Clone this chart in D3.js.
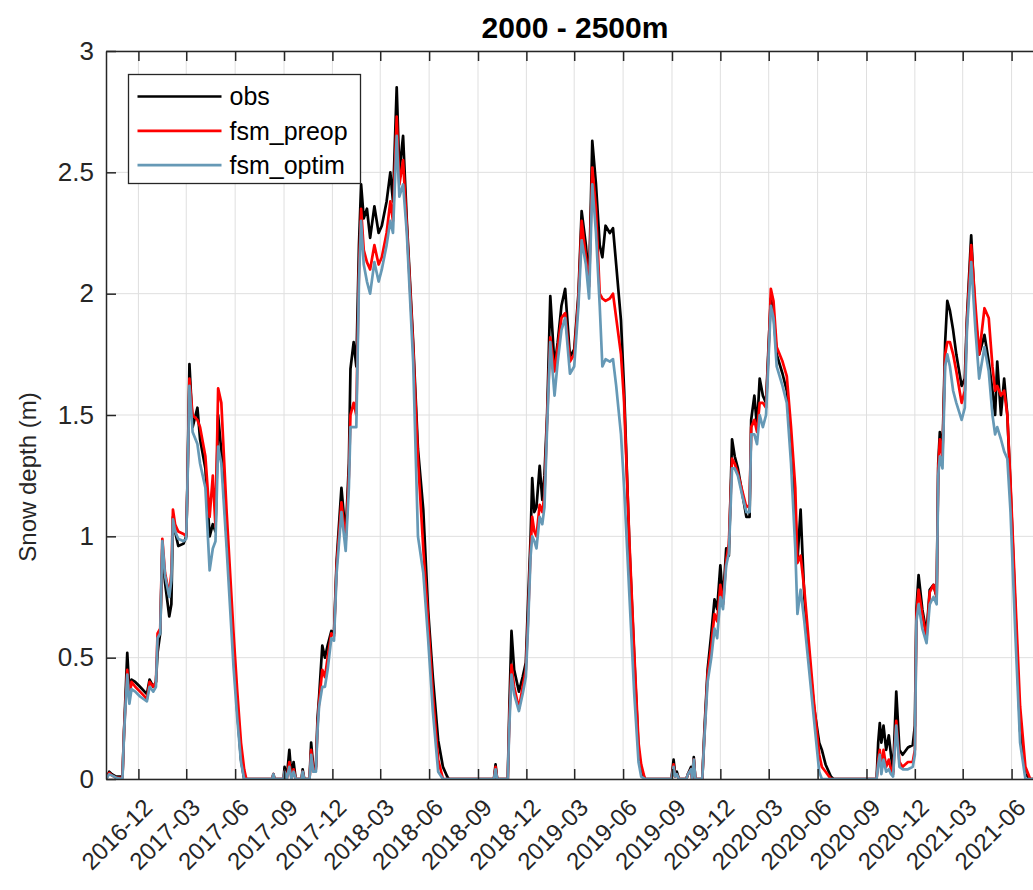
<!DOCTYPE html>
<html>
<head>
<meta charset="utf-8">
<script src="https://cdn.jsdelivr.net/npm/d3@7"></script>
<style>
    body { margin: 0; background: #fff; }
    svg { display: block; font-family: "Liberation Sans", Arial, sans-serif; }
</style>
</head>
<body>
<div id="chart"></div>
<script>
const svgWidth = 1033;
const svgHeight = 890;
const plotLeft = 106, plotRight = 1044, plotTop = 51, plotBottom = 779;
const axisColor = "#262626";

// sample dates (daily series at its turning points)
const dates = [
    "2016-10-01","2016-10-07","2016-10-12","2016-10-20","2016-11-01","2016-11-04","2016-11-10","2016-11-14","2016-11-18","2016-11-25",
    "2016-12-04","2016-12-17","2016-12-22","2016-12-29","2017-01-03","2017-01-06","2017-01-11","2017-01-15","2017-01-20","2017-01-28",
    "2017-02-01","2017-02-04","2017-02-08","2017-02-14","2017-02-24","2017-03-01","2017-03-03","2017-03-07","2017-03-13","2017-03-22",
    "2017-03-27","2017-04-06","2017-04-14","2017-04-20","2017-04-25","2017-04-30","2017-05-06","2017-05-16","2017-05-29","2017-06-05",
    "2017-06-12","2017-06-18","2017-06-22","2017-08-10","2017-08-12","2017-08-14","2017-08-31","2017-09-02","2017-09-06","2017-09-11",
    "2017-09-15","2017-09-19","2017-09-23","2017-10-04","2017-10-06","2017-10-09","2017-10-19","2017-10-22","2017-10-26","2017-10-31",
    "2017-11-03","2017-11-06","2017-11-12","2017-11-17","2017-11-22","2017-11-29","2017-12-04","2017-12-09","2017-12-18","2017-12-26",
    "2018-01-01","2018-01-04","2018-01-10","2018-01-15","2018-01-20","2018-01-24","2018-01-29","2018-02-04","2018-02-10","2018-02-18",
    "2018-02-26","2018-03-04","2018-03-13","2018-03-20","2018-03-25","2018-04-01","2018-04-06","2018-04-13","2018-04-20","2018-05-02",
    "2018-05-11","2018-05-21","2018-05-30","2018-06-08","2018-06-18","2018-06-27","2018-07-05","2018-07-08","2018-10-01","2018-10-04",
    "2018-10-07","2018-10-27","2018-10-30","2018-11-03","2018-11-08","2018-11-17","2018-11-24","2018-11-30","2018-12-04","2018-12-09",
    "2018-12-12","2018-12-16","2018-12-20","2018-12-26","2018-12-31","2019-01-04","2019-01-09","2019-01-15","2019-01-23","2019-01-29",
    "2019-02-05","2019-02-12","2019-02-21","2019-03-01","2019-03-09","2019-03-15","2019-03-23","2019-03-29","2019-04-04","2019-04-11",
    "2019-04-18","2019-04-23","2019-04-29","2019-05-07","2019-05-13","2019-05-19","2019-05-28","2019-06-03","2019-06-13","2019-06-22",
    "2019-06-30","2019-07-05","2019-07-12","2019-08-31","2019-09-04","2019-09-07","2019-09-10","2019-09-14","2019-09-28","2019-10-01",
    "2019-10-07","2019-10-09","2019-10-12","2019-10-15","2019-10-28","2019-11-01","2019-11-07","2019-11-14","2019-11-20","2019-11-25",
    "2019-12-01","2019-12-06","2019-12-12","2019-12-17","2019-12-23","2019-12-28","2020-01-03","2020-01-11","2020-01-19","2020-01-25",
    "2020-01-28","2020-02-03","2020-02-08","2020-02-13","2020-02-19","2020-02-25","2020-03-01","2020-03-05","2020-03-10","2020-03-16",
    "2020-03-27","2020-04-04","2020-04-12","2020-04-20","2020-04-24","2020-04-30","2020-05-07","2020-05-16","2020-05-25","2020-06-04",
    "2020-06-09","2020-06-16","2020-06-26","2020-07-01","2020-09-20","2020-09-23","2020-09-26","2020-09-29","2020-10-03","2020-10-08",
    "2020-10-13","2020-10-17","2020-10-21","2020-10-27","2020-11-02","2020-11-08","2020-11-18","2020-11-27","2020-12-01","2020-12-04",
    "2020-12-08","2020-12-15","2020-12-23","2020-12-29","2021-01-05","2021-01-11","2021-01-14","2021-01-17","2021-01-22","2021-01-27",
    "2021-01-31","2021-02-05","2021-02-11","2021-02-17","2021-02-27","2021-03-05","2021-03-09","2021-03-17","2021-03-25","2021-04-01",
    "2021-04-11","2021-04-19","2021-04-26","2021-05-01","2021-05-05","2021-05-12","2021-05-18","2021-05-24","2021-05-30","2021-06-08",
    "2021-06-17","2021-06-27","2021-07-06","2021-07-31"
];

// snow depth (m), observed
const obs = [
    0, 0.03, 0.02, 0.01, 0.01, 0.2, 0.52, 0.36, 0.41, 0.4,
    0.38, 0.35, 0.41, 0.38, 0.4, 0.52, 0.6, 0.95, 0.81, 0.67,
    0.72, 1.08, 1.02, 0.96, 0.97, 1.0, 1.19, 1.71, 1.45, 1.53,
    1.4, 1.28, 1.0, 1.05, 1.02, 1.5, 1.35, 1.0, 0.55, 0.28,
    0.08, 0, 0, 0, 0.02, 0, 0, 0.05, 0, 0.12,
    0.01, 0.07, 0, 0, 0.04, 0, 0, 0.15, 0.05, 0.05,
    0.25, 0.34, 0.55, 0.5, 0.55, 0.61, 0.6, 0.9, 1.2, 1.0,
    1.3, 1.69, 1.8, 1.7, 2.2, 2.45, 2.31, 2.35, 2.23, 2.36,
    2.25, 2.28, 2.38, 2.5, 2.38, 2.85, 2.5, 2.65, 2.3, 1.8,
    1.36, 1.11, 0.7, 0.42, 0.16, 0.05, 0.01, 0, 0, 0.06,
    0, 0, 0.3, 0.61, 0.45, 0.36, 0.42, 0.48, 0.72, 1.0,
    1.24, 1.1, 1.12, 1.29, 1.15, 1.25, 1.5, 1.99, 1.7, 1.8,
    1.95, 2.02, 1.74, 1.77, 2.0, 2.34, 2.2, 2.05, 2.63, 2.45,
    2.2, 2.15, 2.28, 2.25, 2.27, 2.12, 1.89, 1.6, 0.95, 0.5,
    0.12, 0.04, 0, 0, 0.08, 0.02, 0.03, 0, 0, 0.02,
    0.05, 0, 0.09, 0, 0, 0.2, 0.45, 0.6, 0.74, 0.7,
    0.88, 0.73, 0.95, 0.92, 1.4, 1.33, 1.28, 1.18, 1.08, 1.08,
    1.48, 1.58, 1.45, 1.65, 1.58, 1.55, 1.8, 1.98, 1.92, 1.75,
    1.67, 1.6, 1.38, 1.1, 0.9, 1.11, 0.75, 0.5, 0.3, 0.15,
    0.12, 0.06, 0.01, 0, 0, 0.15, 0.23, 0.15, 0.22, 0.12,
    0.18, 0.1, 0.03, 0.36, 0.12, 0.1, 0.13, 0.14, 0.22, 0.7,
    0.84, 0.7, 0.6, 0.78, 0.8, 0.75, 1.3, 1.43, 1.35, 1.8,
    1.97, 1.93, 1.85, 1.75, 1.62, 1.65, 1.9, 2.24, 1.9, 1.75,
    1.83, 1.72, 1.6, 1.5, 1.72, 1.5, 1.65, 1.5, 1.2, 0.7,
    0.2, 0.02, 0, 0
];

const fsm_preop = [
    0, 0.025, 0.015, 0.005, 0.005, 0.2, 0.45, 0.33, 0.4, 0.38,
    0.36, 0.33, 0.4, 0.38, 0.4, 0.6, 0.62, 0.99, 0.85, 0.76,
    0.85, 1.11, 1.05, 1.02, 1.01, 1.0, 1.19, 1.65, 1.5, 1.48,
    1.45, 1.33, 1.08, 1.25, 1.04, 1.61, 1.55, 1.1, 0.6, 0.36,
    0.15, 0.04, 0, 0, 0.02, 0, 0, 0.03, 0, 0.07,
    0, 0.04, 0, 0, 0.03, 0, 0, 0.12, 0.04, 0.04,
    0.22, 0.32, 0.45, 0.42, 0.5, 0.6, 0.59, 0.88, 1.14, 0.98,
    1.25, 1.5, 1.55, 1.5, 2.1, 2.35, 2.18, 2.13, 2.1, 2.2,
    2.12, 2.15, 2.25, 2.38, 2.3, 2.73, 2.45, 2.55, 2.28, 1.78,
    1.32, 0.95, 0.66, 0.35, 0.08, 0, 0, 0, 0, 0.05,
    0, 0, 0.25, 0.47, 0.38, 0.29, 0.38, 0.45, 0.65, 0.95,
    1.08, 1.02, 1.0, 1.13, 1.1, 1.17, 1.48, 1.82, 1.68, 1.78,
    1.9, 1.92, 1.72, 1.75, 1.98, 2.3, 2.15, 2.03, 2.52, 2.35,
    2.0, 1.98, 1.97, 1.98, 2.0, 1.9, 1.75, 1.55, 0.97, 0.52,
    0.15, 0.06, 0, 0, 0.06, 0.01, 0.02, 0, 0, 0.02,
    0.04, 0, 0.08, 0, 0, 0.18, 0.43, 0.55, 0.68, 0.65,
    0.8, 0.72, 0.9, 0.97, 1.32, 1.3, 1.26, 1.19, 1.12, 1.13,
    1.45, 1.48, 1.43, 1.55, 1.55, 1.53, 1.78, 2.02, 1.97, 1.78,
    1.72, 1.66, 1.45, 1.2, 0.89, 0.92, 0.78, 0.55, 0.32, 0.1,
    0.05, 0.03, 0, 0, 0, 0.08, 0.12, 0.04, 0.12, 0.05,
    0.08, 0.04, 0.02, 0.24, 0.07, 0.05, 0.07, 0.07, 0.12, 0.68,
    0.78, 0.68, 0.58, 0.77, 0.8, 0.75, 1.28, 1.4, 1.33, 1.75,
    1.8, 1.8, 1.75, 1.68, 1.55, 1.6, 1.88, 2.2, 1.95, 1.75,
    1.94, 1.9, 1.7, 1.6, 1.62, 1.58, 1.6, 1.5, 1.22, 0.75,
    0.3, 0.05, 0, 0
];

const fsm_optim = [
    0, 0.02, 0.015, 0.005, 0, 0.19, 0.43, 0.31, 0.37, 0.36,
    0.34, 0.32, 0.38, 0.36, 0.38, 0.58, 0.6, 0.98, 0.84, 0.75,
    0.82, 1.07, 1.02, 0.99, 0.98, 0.99, 1.18, 1.62, 1.43, 1.38,
    1.3, 1.2, 0.86, 0.95, 0.98, 1.37, 1.3, 0.95, 0.46, 0.25,
    0.07, 0, 0, 0, 0.02, 0, 0, 0.03, 0, 0.05,
    0, 0.03, 0, 0, 0.03, 0, 0, 0.1, 0.03, 0.03,
    0.2, 0.3, 0.38, 0.38, 0.45, 0.58, 0.57, 0.85, 1.1, 0.94,
    1.2, 1.45, 1.45, 1.45, 2.05, 2.3, 2.12, 2.05, 2.0, 2.13,
    2.05, 2.1, 2.2, 2.3, 2.25, 2.65, 2.4, 2.45, 2.25, 1.72,
    1.0, 0.85, 0.58, 0.28, 0.03, 0, 0, 0, 0, 0.04,
    0, 0, 0.22, 0.43, 0.35, 0.28, 0.35, 0.42, 0.62, 0.92,
    1.0, 0.98, 0.95, 1.08, 1.05, 1.12, 1.45, 1.8, 1.58, 1.72,
    1.85, 1.9, 1.67, 1.7, 1.95, 2.22, 2.12, 1.98, 2.45, 2.25,
    1.95, 1.7, 1.73, 1.72, 1.73, 1.62, 1.42, 1.2, 0.75, 0.35,
    0.07, 0.01, 0, 0, 0.05, 0.01, 0.02, 0, 0, 0.02,
    0.04, 0, 0.08, 0, 0, 0.17, 0.4, 0.5, 0.62, 0.58,
    0.75, 0.7, 0.88, 0.93, 1.28, 1.28, 1.25, 1.17, 1.1, 1.1,
    1.42, 1.42, 1.38, 1.5, 1.45, 1.5, 1.75, 1.95, 1.9, 1.7,
    1.62, 1.55, 1.3, 0.95, 0.68, 0.78, 0.65, 0.45, 0.25, 0.03,
    0, 0, 0, 0, 0, 0.06, 0.1, 0.02, 0.08, 0.03,
    0.04, 0.02, 0.01, 0.22, 0.05, 0.04, 0.04, 0.05, 0.1, 0.65,
    0.72, 0.62, 0.56, 0.72, 0.75, 0.72, 1.25, 1.33, 1.28, 1.7,
    1.75, 1.7, 1.6, 1.55, 1.48, 1.53, 1.85, 2.13, 1.85, 1.65,
    1.78, 1.68, 1.5, 1.42, 1.45, 1.4, 1.35, 1.32, 1.1, 0.6,
    0.15, 0, 0, 0
];

const seriesNames = ["obs", "fsm_preop", "fsm_optim"];
const seriesColors = ["#000000", "#ff0000", "#6699b6"];
const xTickLabels = ["2016-12","2017-03","2017-06","2017-09","2017-12","2018-03","2018-06","2018-09","2018-12",
                     "2019-03","2019-06","2019-09","2019-12","2020-03","2020-06","2020-09","2020-12","2021-03","2021-06"];
const yTicks = [0, 0.5, 1, 1.5, 2, 2.5, 3];
const xStart = "2016-10-01", xEnd = "2021-08-01";

const parseDay = d3.utcParse("%Y-%m-%d");
const parseMonth = d3.utcParse("%Y-%m");

function build_series() {
    let values = [obs, fsm_preop, fsm_optim];
    return seriesNames.map((name, k) => ({
        name: name,
        color: seriesColors[k],
        points: dates.map((d, i) => ({ date: parseDay(d), v: values[k][i] }))
    }));
}

function add_grid(svg, x, y, xTicks) {
    let g = svg.append("g").attr("stroke", "#dfdfdf").attr("stroke-width", 1);
    g.selectAll(".vgrid")
        .data(xTicks)
        .enter()
        .append("line")
            .attr("x1", d => x(d)).attr("x2", d => x(d))
            .attr("y1", plotTop).attr("y2", plotBottom);
    g.selectAll(".hgrid")
        .data(yTicks)
        .enter()
        .append("line")
            .attr("x1", plotLeft).attr("x2", plotRight)
            .attr("y1", d => y(d)).attr("y2", d => y(d));
}

function add_lines(svg, x, y, series) {
    svg.append("clipPath").attr("id", "plot_clip")
        .append("rect")
            .attr("x", plotLeft).attr("y", plotTop)
            .attr("width", plotRight - plotLeft).attr("height", plotBottom - plotTop);
    let line = d3.line()
        .x(d => x(d.date))
        .y(d => y(d.v));
    svg.append("g")
        .attr("clip-path", "url(#plot_clip)")
        .selectAll("path")
        .data(series)
        .enter()
        .append("path")
            .attr("d", d => line(d.points))
            .attr("fill", "none")
            .attr("stroke", d => d.color)
            .attr("stroke-width", 2.7)
            .attr("stroke-linejoin", "round");
}

function style_axis(g, size) {
    g.selectAll("path, line").attr("stroke", axisColor).attr("stroke-width", 1.5);
    g.selectAll("text")
        .attr("fill", axisColor)
        .style("font-size", size + "px")
        .style("font-family", "'Liberation Sans', Arial, sans-serif");
}

function add_axes(svg, x, y, xTicks) {
    let fmt = d3.utcFormat("%Y-%m");
    let bottom = svg.append("g")
        .attr("transform", `translate(0,${plotBottom})`)
        .call(d3.axisBottom(x).tickValues(xTicks).tickSizeInner(-10).tickSizeOuter(0).tickFormat(fmt));
    style_axis(bottom, 24);
    // rotated labels end just right of their tick
    bottom.selectAll("text")
        .attr("text-anchor", "end")
        .attr("dy", null)
        .attr("y", null)
        .attr("transform", "translate(15,30) rotate(-45)");

    let top = svg.append("g")
        .attr("transform", `translate(0,${plotTop})`)
        .call(d3.axisTop(x).tickValues(xTicks).tickSizeInner(-10).tickSizeOuter(0).tickFormat(""));
    style_axis(top, 24);

    let left = svg.append("g")
        .attr("transform", `translate(${plotLeft},0)`)
        .call(d3.axisLeft(y).tickValues(yTicks).tickSizeInner(-10).tickSizeOuter(0).tickPadding(12).tickFormat(d3.format("~g")));
    style_axis(left, 26);
}

function add_legend(svg, series) {
    let lx = plotLeft + 22.5, ly = plotTop + 23.5;
    let legend = svg.append("g").attr("transform", `translate(${lx},${ly})`);
    legend.append("rect")
        .attr("width", 232).attr("height", 109)
        .attr("fill", "#fff")
        .attr("stroke", axisColor)
        .attr("stroke-width", 1.3);
    let rows = legend.selectAll("g")
        .data(series)
        .enter()
        .append("g")
            .attr("transform", (d, i) => `translate(0,${22 + i * 34.3})`);
    rows.append("line")
        .attr("x1", 9).attr("x2", 93)
        .attr("stroke", d => d.color)
        .attr("stroke-width", 2.7);
    rows.append("text")
        .attr("x", 101)
        .attr("dy", "0.35em")
        .text(d => d.name)
        .style("font-size", "25px")
        .attr("fill", "#000");
}

function create_chart() {
    let svg = d3.select("#chart")
        .append("svg")
        .attr("width", svgWidth)
        .attr("height", svgHeight);
    let x = d3.scaleUtc()
        .domain([parseDay(xStart), parseDay(xEnd)])
        .range([plotLeft, plotRight]);
    let y = d3.scaleLinear()
        .domain([0, 3])
        .range([plotBottom, plotTop]);
    let xTicks = xTickLabels.map(parseMonth);
    let series = build_series();

    add_grid(svg, x, y, xTicks);
    add_lines(svg, x, y, series);
    add_axes(svg, x, y, xTicks);
    add_legend(svg, series);

    svg.append("text")
        .attr("x", (plotLeft + plotRight) / 2)
        .attr("y", 38)
        .attr("text-anchor", "middle")
        .style("font-size", "30px")
        .style("font-weight", "bold")
        .text("2000 - 2500m");

    svg.append("text")
        .attr("transform", "translate(36,477) rotate(-90)")
        .attr("text-anchor", "middle")
        .attr("fill", axisColor)
        .style("font-size", "24px")
        .text("Snow depth (m)");
}

create_chart();
</script>
</body>
</html>
